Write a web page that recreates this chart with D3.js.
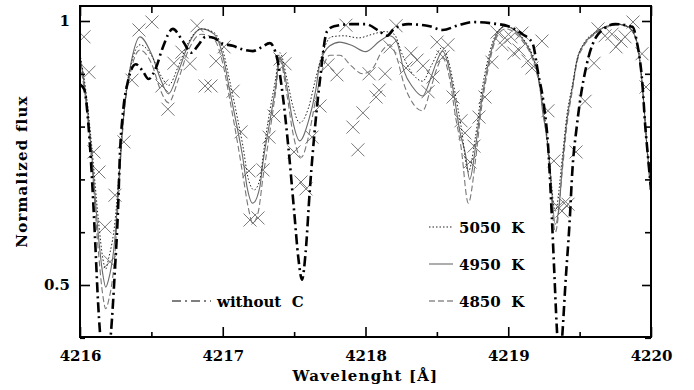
<!DOCTYPE html>
<html>
<head>
<meta charset="utf-8">
<script src="https://cdn.jsdelivr.net/npm/d3@7"></script>
<style>
  html, body { margin: 0; padding: 0; background: #fff; }
  svg text { font-family: "DejaVu Serif", serif; font-weight: bold; fill: #000; }
</style>
</head>
<body>
<svg id="chart" width="694" height="390"></svg>
<script>
// Model spectra around 4216-4220 A: [wavelength, normalized flux]
const modelNoC = [
    [4216.00, 0.88], [4216.03, 0.87], [4216.06, 0.80], [4216.08, 0.72], [4216.105, 0.59],
    [4216.126, 0.47], [4216.14, 0.41], [4216.18, 0.33], [4216.217, 0.41], [4216.245, 0.53],
    [4216.266, 0.64], [4216.28, 0.75], [4216.30, 0.824], [4216.336, 0.886], [4216.39, 0.918],
    [4216.44, 0.905], [4216.48, 0.89], [4216.53, 0.91], [4216.58, 0.95], [4216.65, 0.985],
    [4216.72, 0.962], [4216.78, 0.94], [4216.83, 0.955], [4216.88, 0.97], [4216.94, 0.968],
    [4216.99, 0.958], [4217.07, 0.953], [4217.14, 0.946], [4217.21, 0.943], [4217.27, 0.95],
    [4217.33, 0.958], [4217.38, 0.93], [4217.42, 0.86], [4217.46, 0.76], [4217.50, 0.64],
    [4217.53, 0.55], [4217.555, 0.51], [4217.58, 0.56], [4217.61, 0.68], [4217.64, 0.78],
    [4217.68, 0.886], [4217.73, 0.98], [4217.78, 0.99], [4217.90, 0.994], [4218.00, 0.994],
    [4218.10, 0.98], [4218.15, 0.972], [4218.20, 0.985], [4218.30, 0.994], [4218.45, 0.99],
    [4218.54, 0.983], [4218.65, 0.992], [4218.75, 0.998], [4218.90, 0.995], [4219.00, 0.99],
    [4219.10, 0.975], [4219.17, 0.958], [4219.21, 0.90], [4219.25, 0.84], [4219.28, 0.76],
    [4219.30, 0.66], [4219.32, 0.54], [4219.34, 0.42], [4219.36, 0.34], [4219.38, 0.41],
    [4219.40, 0.50], [4219.43, 0.62], [4219.45, 0.72], [4219.48, 0.80], [4219.50, 0.843],
    [4219.55, 0.918], [4219.63, 0.975], [4219.75, 0.994], [4219.87, 0.989], [4219.90, 0.962],
    [4219.94, 0.88], [4219.96, 0.80], [4219.98, 0.74], [4220.00, 0.68]
];

const model5050 = [
    [4216.00, 0.937], [4216.04, 0.87], [4216.08, 0.77], [4216.13, 0.62], [4216.16, 0.55],
    [4216.18, 0.53], [4216.20, 0.55], [4216.245, 0.62], [4216.27, 0.70], [4216.29, 0.775],
    [4216.32, 0.86], [4216.36, 0.92], [4216.42, 0.955], [4216.50, 0.935], [4216.57, 0.895],
    [4216.62, 0.878], [4216.69, 0.915], [4216.76, 0.96], [4216.85, 0.985], [4216.94, 0.978],
    [4217.00, 0.945], [4217.05, 0.885], [4217.10, 0.82], [4217.14, 0.765], [4217.18, 0.70],
    [4217.22, 0.68], [4217.26, 0.70], [4217.29, 0.76], [4217.33, 0.83], [4217.37, 0.89],
    [4217.40, 0.94], [4217.45, 0.89], [4217.49, 0.84], [4217.54, 0.807], [4217.60, 0.835],
    [4217.65, 0.89], [4217.70, 0.94], [4217.76, 0.97], [4217.85, 0.972], [4217.95, 0.968],
    [4218.05, 0.975], [4218.13, 0.98], [4218.20, 0.975], [4218.26, 0.935], [4218.33, 0.90],
    [4218.40, 0.886], [4218.46, 0.915], [4218.54, 0.95], [4218.59, 0.915], [4218.63, 0.86],
    [4218.67, 0.80], [4218.72, 0.715], [4218.77, 0.78], [4218.81, 0.86], [4218.86, 0.93],
    [4218.92, 0.978], [4218.98, 0.99], [4219.10, 0.968], [4219.17, 0.935], [4219.22, 0.885],
    [4219.25, 0.83], [4219.28, 0.76], [4219.33, 0.64], [4219.38, 0.745], [4219.41, 0.82],
    [4219.45, 0.88], [4219.48, 0.925], [4219.53, 0.958], [4219.60, 0.977], [4219.69, 0.99],
    [4219.77, 0.994], [4219.84, 0.989], [4219.90, 0.962], [4219.93, 0.905], [4219.95, 0.843],
    [4219.97, 0.77], [4220.00, 0.69]
];

const model4950 = [
    [4216.00, 0.932], [4216.04, 0.86], [4216.08, 0.754], [4216.13, 0.59], [4216.16, 0.52],
    [4216.18, 0.496], [4216.20, 0.51], [4216.245, 0.59], [4216.27, 0.686], [4216.29, 0.767],
    [4216.32, 0.856], [4216.36, 0.924], [4216.42, 0.97], [4216.50, 0.938], [4216.57, 0.886],
    [4216.62, 0.862], [4216.69, 0.905], [4216.76, 0.956], [4216.85, 0.985], [4216.94, 0.975],
    [4217.00, 0.935], [4217.05, 0.867], [4217.10, 0.80], [4217.14, 0.742], [4217.17, 0.686],
    [4217.21, 0.655], [4217.26, 0.686], [4217.28, 0.729], [4217.33, 0.81], [4217.37, 0.875],
    [4217.40, 0.932], [4217.45, 0.875], [4217.49, 0.811], [4217.54, 0.773], [4217.60, 0.81],
    [4217.65, 0.867], [4217.68, 0.919], [4217.75, 0.953], [4217.82, 0.96], [4217.91, 0.953],
    [4218.00, 0.942], [4218.10, 0.962], [4218.17, 0.972], [4218.22, 0.96], [4218.27, 0.905],
    [4218.33, 0.875], [4218.40, 0.858], [4218.46, 0.894], [4218.50, 0.924], [4218.54, 0.943],
    [4218.59, 0.905], [4218.63, 0.843], [4218.66, 0.792], [4218.70, 0.748], [4218.73, 0.70],
    [4218.77, 0.76], [4218.81, 0.843], [4218.86, 0.919], [4218.92, 0.975], [4218.98, 0.99],
    [4219.10, 0.966], [4219.17, 0.932], [4219.22, 0.881], [4219.24, 0.83], [4219.27, 0.78],
    [4219.29, 0.729], [4219.33, 0.615], [4219.36, 0.66], [4219.38, 0.729], [4219.41, 0.81],
    [4219.45, 0.875], [4219.48, 0.924], [4219.53, 0.956], [4219.60, 0.975], [4219.69, 0.99],
    [4219.77, 0.994], [4219.84, 0.989], [4219.90, 0.962], [4219.93, 0.905], [4219.95, 0.843],
    [4219.97, 0.767], [4220.00, 0.68]
];

const model4850 = [
    [4216.00, 0.92], [4216.04, 0.85], [4216.08, 0.74], [4216.13, 0.56], [4216.16, 0.48],
    [4216.18, 0.455], [4216.20, 0.47], [4216.245, 0.56], [4216.27, 0.67], [4216.29, 0.76],
    [4216.32, 0.85], [4216.36, 0.91], [4216.42, 0.945], [4216.50, 0.92], [4216.57, 0.865],
    [4216.62, 0.845], [4216.69, 0.89], [4216.76, 0.945], [4216.85, 0.975], [4216.94, 0.965],
    [4217.00, 0.92], [4217.05, 0.85], [4217.10, 0.775], [4217.14, 0.71], [4217.18, 0.645],
    [4217.21, 0.617], [4217.25, 0.64], [4217.28, 0.70], [4217.33, 0.79], [4217.37, 0.865],
    [4217.40, 0.925], [4217.45, 0.86], [4217.49, 0.79], [4217.55, 0.742], [4217.60, 0.78],
    [4217.65, 0.85], [4217.70, 0.91], [4217.75, 0.935], [4217.82, 0.935], [4217.90, 0.915],
    [4217.98, 0.90], [4218.05, 0.91], [4218.12, 0.945], [4218.17, 0.955], [4218.22, 0.93],
    [4218.27, 0.88], [4218.33, 0.845], [4218.40, 0.83], [4218.46, 0.875], [4218.50, 0.91],
    [4218.54, 0.93], [4218.59, 0.89], [4218.63, 0.82], [4218.67, 0.76], [4218.72, 0.655],
    [4218.77, 0.735], [4218.81, 0.83], [4218.86, 0.91], [4218.92, 0.97], [4218.98, 0.985],
    [4219.10, 0.962], [4219.17, 0.928], [4219.22, 0.875], [4219.25, 0.82], [4219.28, 0.75],
    [4219.33, 0.60], [4219.38, 0.72], [4219.41, 0.80], [4219.45, 0.87], [4219.48, 0.92],
    [4219.53, 0.953], [4219.60, 0.974], [4219.69, 0.988], [4219.77, 0.993], [4219.84, 0.988],
    [4219.90, 0.96], [4219.93, 0.90], [4219.95, 0.84], [4219.97, 0.765], [4220.00, 0.67]
];

// Observed spectrum points (crosses)
const observed = [
    [4216.028, 0.970], [4216.063, 0.903], [4216.098, 0.752], [4216.133, 0.714], [4216.245, 0.670],
    [4216.175, 0.610], [4216.210, 0.544], [4216.308, 0.771], [4216.364, 0.888], [4216.413, 0.983],
    [4216.504, 0.998], [4216.574, 0.877], [4216.616, 0.833], [4216.658, 0.920], [4216.714, 0.941],
    [4216.771, 0.919], [4216.820, 0.991], [4216.876, 0.877], [4216.918, 0.877], [4216.953, 0.924],
    [4217.009, 0.951], [4217.072, 0.867], [4217.128, 0.790], [4217.184, 0.716], [4217.191, 0.623],
    [4217.247, 0.627], [4217.282, 0.718], [4217.324, 0.780], [4217.359, 0.820], [4217.401, 0.928],
    [4217.436, 0.919], [4217.499, 0.752], [4217.548, 0.695], [4217.583, 0.682], [4217.625, 0.780],
    [4217.681, 0.839], [4217.737, 0.917], [4217.800, 0.898], [4217.863, 0.992], [4217.912, 0.799],
    [4217.947, 0.756], [4217.982, 0.826], [4218.025, 0.900], [4218.074, 0.856], [4218.095, 0.869],
    [4218.137, 0.900], [4218.172, 0.951], [4218.214, 0.991], [4218.284, 0.911], [4218.319, 0.939],
    [4218.361, 0.926], [4218.403, 0.915], [4218.438, 0.866], [4218.473, 0.894], [4218.501, 0.960],
    [4218.543, 0.932], [4218.578, 0.955], [4218.613, 0.856], [4218.669, 0.811], [4218.697, 0.788],
    [4218.732, 0.733], [4218.760, 0.763], [4218.795, 0.818], [4218.837, 0.856], [4218.886, 0.922],
    [4218.921, 0.979], [4218.956, 0.955], [4218.977, 0.968], [4219.019, 0.970], [4219.040, 0.939],
    [4219.075, 0.945], [4219.096, 0.977], [4219.138, 0.924], [4219.166, 0.911], [4219.236, 0.962],
    [4219.278, 0.830], [4219.320, 0.735], [4219.348, 0.648], [4219.391, 0.655], [4219.419, 0.653],
    [4219.376, 0.640], [4219.475, 0.752], [4219.538, 0.848], [4219.601, 0.920], [4219.629, 0.985],
    [4219.678, 0.972], [4219.727, 0.975], [4219.755, 0.951], [4219.790, 0.962], [4219.818, 0.970],
    [4219.874, 0.998], [4219.937, 0.938], [4219.965, 0.875]
];

const xMajorTicks = [4216, 4217, 4218, 4219, 4220];
const xMinorTicks = [4216.5, 4217.5, 4218.5, 4219.5];
const yMajorTicks = [0.5, 1];
const yMinorTicks = [0.4, 0.6, 0.7, 0.8, 0.9];

const plotLeft = 80, plotRight = 651, plotTop = 6, plotBottom = 337;

const svg = d3.select('#chart');

const x = d3.scaleLinear().domain([4216, 4220]).range([plotLeft, plotRight]);
const y = d3.scaleLinear().domain([0.4015, 1.0284]).range([plotBottom, plotTop]);

svg.append('defs').append('clipPath').attr('id', 'plot-clip')
    .append('rect')
    .attr('x', plotLeft).attr('y', plotTop)
    .attr('width', plotRight - plotLeft).attr('height', plotBottom - plotTop);

const plot = svg.append('g').attr('clip-path', 'url(#plot-clip)');

const line = d3.line()
    .x(function (d) { return x(d[0]); })
    .y(function (d) { return y(d[1]); })
    .curve(d3.curveMonotoneX);

// observed crosses
const cross = 'M-6.5,-6.5L6.5,6.5M-6.5,6.5L6.5,-6.5';
plot.selectAll('.obs')
    .data(observed)
    .join('path')
    .attr('class', 'obs')
    .attr('d', cross)
    .attr('transform', function (d) { return 'translate(' + x(d[0]) + ',' + y(d[1]) + ')'; })
    .attr('fill', 'none')
    .attr('stroke', '#777')
    .attr('stroke-width', 1);

const series = [
    { data: model4850, stroke: '#777', width: 1.1, dash: '6,3' },
    { data: model4950, stroke: '#6a6a6a', width: 1.1, dash: null },
    { data: model5050, stroke: '#222', width: 1, dash: '1.5,2' },
    { data: modelNoC, stroke: '#000', width: 2.6, dash: '10,4,2,4' }
];

series.forEach(function (s) {
    plot.append('path')
        .datum(s.data)
        .attr('d', line)
        .attr('fill', 'none')
        .attr('stroke', s.stroke)
        .attr('stroke-width', s.width)
        .attr('stroke-dasharray', s.dash);
});

// axes, ticks pointing inward
function styleAxis(g) {
    g.select('.domain').remove();
    g.selectAll('line').attr('stroke', '#000').attr('stroke-width', 1.6);
    g.selectAll('text').attr('font-size', 15).attr('fill', '#000')
        .attr('font-family', 'DejaVu Serif').attr('font-weight', 'bold');
}

svg.append('g').attr('transform', 'translate(0,' + plotBottom + ')')
    .call(d3.axisBottom(x).tickValues(xMajorTicks).tickSizeInner(-10).tickSizeOuter(0)
        .tickPadding(13).tickFormat(d3.format('d')))
    .call(styleAxis);
svg.append('g').attr('transform', 'translate(0,' + plotBottom + ')')
    .call(d3.axisBottom(x).tickValues(xMinorTicks).tickSizeInner(-5).tickSizeOuter(0).tickFormat(''))
    .call(styleAxis);
svg.append('g').attr('transform', 'translate(0,' + plotTop + ')')
    .call(d3.axisTop(x).tickValues(xMajorTicks).tickSizeInner(-10).tickSizeOuter(0).tickFormat(''))
    .call(styleAxis);
svg.append('g').attr('transform', 'translate(0,' + plotTop + ')')
    .call(d3.axisTop(x).tickValues(xMinorTicks).tickSizeInner(-7).tickSizeOuter(0).tickFormat(''))
    .call(styleAxis);

svg.append('g').attr('transform', 'translate(' + plotLeft + ',0)')
    .call(d3.axisLeft(y).tickValues(yMajorTicks).tickSizeInner(-10).tickSizeOuter(0)
        .tickPadding(10).tickFormat(function (d) { return d === 1 ? '1' : d3.format('.1f')(d); }))
    .call(styleAxis);
svg.append('g').attr('transform', 'translate(' + plotLeft + ',0)')
    .call(d3.axisLeft(y).tickValues(yMinorTicks).tickSizeInner(-5).tickSizeOuter(0).tickFormat(''))
    .call(styleAxis);
svg.append('g').attr('transform', 'translate(' + plotRight + ',0)')
    .call(d3.axisRight(y).tickValues(yMajorTicks).tickSizeInner(-9).tickSizeOuter(0).tickFormat(''))
    .call(styleAxis);
svg.append('g').attr('transform', 'translate(' + plotRight + ',0)')
    .call(d3.axisRight(y).tickValues(yMinorTicks).tickSizeInner(-6).tickSizeOuter(0).tickFormat(''))
    .call(styleAxis);

// frame
svg.append('rect')
    .attr('x', plotLeft).attr('y', plotTop)
    .attr('width', plotRight - plotLeft).attr('height', plotBottom - plotTop)
    .attr('fill', 'none').attr('stroke', '#000').attr('stroke-width', 2);

// axis titles
svg.append('text')
    .attr('x', (plotLeft + plotRight) / 2).attr('y', 381)
    .attr('text-anchor', 'middle')
    .attr('font-size', 15)
    .attr('letter-spacing', 1.2)
    .text('Wavelenght [Å]');

svg.append('text')
    .attr('transform', 'translate(27,' + ((plotTop + plotBottom) / 2) + ') rotate(-90)')
    .attr('text-anchor', 'middle')
    .attr('font-size', 15)
    .attr('letter-spacing', 1.2)
    .text('Normalized flux');

// legends
const legendItems = [
    { label: '5050  K', stroke: '#222', width: 1, dash: '1.5,2', x1: 429, x2: 453, ly: 227, tx: 459, ty: 233 },
    { label: '4950  K', stroke: '#6a6a6a', width: 1.1, dash: null, x1: 429, x2: 453, ly: 264, tx: 459, ty: 270 },
    { label: '4850  K', stroke: '#555', width: 1.1, dash: '6,3', x1: 429, x2: 453, ly: 301, tx: 459, ty: 307 },
    { label: 'without  C', stroke: '#000', width: 1.2, dash: '9,4,2,4', x1: 172, x2: 211, ly: 301, tx: 217, ty: 307 }
];

legendItems.forEach(function (it) {
    svg.append('line')
        .attr('x1', it.x1).attr('x2', it.x2)
        .attr('y1', it.ly).attr('y2', it.ly)
        .attr('stroke', it.stroke)
        .attr('stroke-width', it.width)
        .attr('stroke-dasharray', it.dash);
    svg.append('text')
        .attr('x', it.tx).attr('y', it.ty)
        .attr('font-size', 15)
        .style('white-space', 'pre')
        .text(it.label);
});
</script>
</body>
</html>
